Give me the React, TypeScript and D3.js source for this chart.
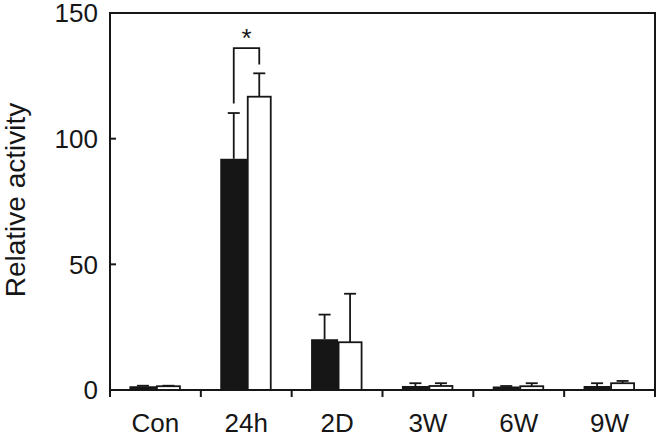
import React, { useRef, useEffect } from "react";
import * as d3 from "d3";

const categories = ["Con", "24h", "2D", "3W", "6W", "9W"];
const blackValues = [1.5, 92, 20.2, 1.6, 1.4, 1.6];
const blackErrors = [0.2, 18.2, 9.8, 1.1, 0.2, 1.1];
const whiteValues = [1.5, 116.7, 19, 1.6, 1.5, 2.7];
const whiteErrors = [0.2, 9.3, 19.3, 1.1, 1.2, 0.9];
const yTicks = [0, 50, 100, 150];
// significance bracket: left foot, top, right foot (data units)
const bracketCategory = "24h";
const bracketLevels = [114, 136, 129.5];

export default function App() {
  const svgRef = useRef<SVGSVGElement>(null);

  const width = 657;
  const height = 446;

  useEffect(() => {
    const svg = d3.select(svgRef.current);
    svg.selectAll("*").remove();

    const font = "'Liberation Sans', Arial, Helvetica, sans-serif";
    const ink = "#161616";

    const xScale = d3.scaleBand().domain(categories).range([110, 655]).padding(0);
    const yScale = d3.scaleLinear().domain([0, 150]).range([390, 13]);

    const rows = categories.map((c, i) => ({
      cat: c,
      bv: blackValues[i],
      be: blackErrors[i],
      wv: whiteValues[i],
      we: whiteErrors[i],
    }));
    const center = (c: string) => (xScale(c) as number) + xScale.bandwidth() / 2;

    // Error bars (up only)
    const errs = rows.flatMap((r) => [
      { x: center(r.cat) - 12.5, v: r.bv, e: r.be },
      { x: center(r.cat) + 13, v: r.wv, e: r.we },
    ]);
    svg
      .selectAll(".err")
      .data(errs)
      .join("line")
      .attr("x1", (d) => d.x)
      .attr("x2", (d) => d.x)
      .attr("y1", (d) => yScale(d.v))
      .attr("y2", (d) => yScale(d.v + d.e))
      .attr("stroke", ink)
      .attr("stroke-width", 1.8);
    svg
      .selectAll(".cap")
      .data(errs)
      .join("line")
      .attr("x1", (d) => d.x - 6)
      .attr("x2", (d) => d.x + 6)
      .attr("y1", (d) => yScale(d.v + d.e))
      .attr("y2", (d) => yScale(d.v + d.e))
      .attr("stroke", ink)
      .attr("stroke-width", 1.8);

    // Bars
    svg
      .selectAll(".black")
      .data(rows)
      .join("rect")
      .attr("x", (d) => center(d.cat) - 26)
      .attr("y", (d) => yScale(d.bv))
      .attr("width", 27)
      .attr("height", (d) => yScale(0) - yScale(d.bv))
      .attr("fill", ink);
    svg
      .selectAll(".white")
      .data(rows)
      .join("rect")
      .attr("x", (d) => center(d.cat) + 1.5)
      .attr("y", (d) => yScale(d.wv))
      .attr("width", 23)
      .attr("height", (d) => yScale(0) - yScale(d.wv))
      .attr("fill", "#fff")
      .attr("stroke", ink)
      .attr("stroke-width", 1.8);

    // Frame
    svg
      .append("rect")
      .attr("x", 110)
      .attr("y", yScale(150))
      .attr("width", 545)
      .attr("height", yScale(0) - yScale(150))
      .attr("fill", "none")
      .attr("stroke", ink)
      .attr("stroke-width", 2);

    // Y ticks (inward) and labels
    svg
      .selectAll(".ytick")
      .data(yTicks)
      .join("line")
      .attr("x1", 110)
      .attr("x2", 116)
      .attr("y1", (d) => yScale(d))
      .attr("y2", (d) => yScale(d))
      .attr("stroke", ink)
      .attr("stroke-width", 2);
    svg
      .selectAll(".ylab")
      .data(yTicks)
      .join("text")
      .attr("x", 98)
      .attr("y", (d) => yScale(d))
      .attr("dy", "0.36em")
      .attr("text-anchor", "end")
      .attr("font-family", font)
      .attr("font-size", 26)
      .attr("fill", ink)
      .text((d) => d);

    // X ticks (outward at category boundaries) and labels
    const bounds = [...categories.map((c) => xScale(c) as number), 655];
    svg
      .selectAll(".xtick")
      .data(bounds)
      .join("line")
      .attr("x1", (d) => d)
      .attr("x2", (d) => d)
      .attr("y1", 390)
      .attr("y2", 397)
      .attr("stroke", ink)
      .attr("stroke-width", 2);
    svg
      .selectAll(".xlab")
      .data(categories)
      .join("text")
      .attr("x", (d) => center(d))
      .attr("y", 432)
      .attr("text-anchor", "middle")
      .attr("font-family", font)
      .attr("font-size", 26)
      .attr("fill", ink)
      .text((d) => d);

    // Y axis title
    svg
      .append("text")
      .attr("transform", `translate(25, 200) rotate(-90)`)
      .attr("text-anchor", "middle")
      .attr("font-family", font)
      .attr("font-size", 28)
      .attr("fill", ink)
      .text("Relative activity");

    // Significance bracket
    const bx1 = center(bracketCategory) - 12.5;
    const bx2 = center(bracketCategory) + 13;
    const [l1, top, l2] = bracketLevels;
    svg
      .append("path")
      .attr(
        "d",
        `M${bx1},${yScale(l1)}V${yScale(top)}H${bx2}V${yScale(l2)}`
      )
      .attr("fill", "none")
      .attr("stroke", ink)
      .attr("stroke-width", 1.8);
    svg
      .append("text")
      .attr("x", (bx1 + bx2) / 2)
      .attr("y", 47)
      .attr("text-anchor", "middle")
      .attr("font-family", font)
      .attr("font-size", 26)
      .attr("fill", ink)
      .text("*");
  }, []);

  return (
    <svg
      ref={svgRef}
      width={width}
      height={height}
      style={{ position: "absolute", left: 0, top: 0, background: "#fff" }}
    />
  );
}
